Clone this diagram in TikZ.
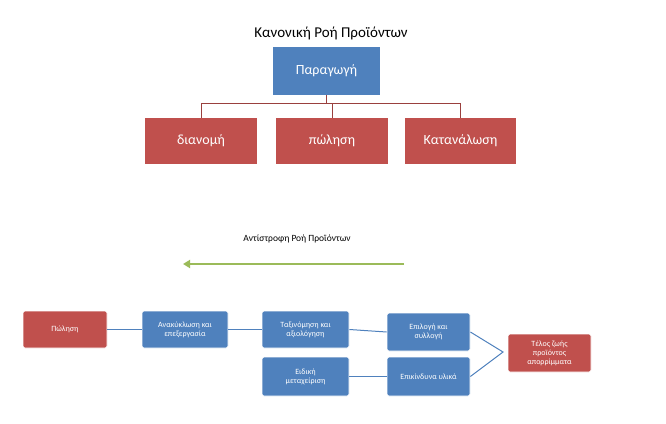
\documentclass[tikz,border=0pt]{standalone}
\usepackage{fontspec}
\setmainfont{Carlito}
\usetikzlibrary{arrows.meta}
\definecolor{bblue}{HTML}{4F81BD}
\definecolor{rred}{HTML}{C0504D}
\definecolor{ggreen}{HTML}{9BBB59}
\begin{document}
\begin{tikzpicture}[x=1pt,y=-1pt,
 box/.style={draw=white,line width=0.8pt,rounded corners=2pt,text=white,align=center,inner sep=1pt,font=\fontsize{8}{9}\selectfont},
 bigbox/.style={draw=none,text=white,align=center,font=\fontsize{14}{16}\selectfont},
 conn/.style={draw=bblue,line width=1pt}]
\useasboundingbox (0,0) rectangle (666,423);
\node[font=\fontsize{15}{17}\selectfont] (t1) at (331,33) {Κανονική Ροή Προϊόντων};
\node[bigbox,fill=bblue,minimum width=107pt,minimum height=48pt] (p) at (326.5,71) {Παραγωγή};
\node[bigbox,fill=rred,minimum width=112pt,minimum height=46pt] (d) at (201,141) {διανομή};
\node[bigbox,fill=rred,minimum width=112pt,minimum height=46pt] (po) at (332,141) {πώληση};
\node[bigbox,fill=rred,minimum width=111pt,minimum height=46pt] (k) at (460.5,141) {Κατανάλωση};
\coordinate (j) at (326.5,103);
\draw[rred!80!black,line width=0.8pt] (p.south) -- (j) -| (d.north);
\draw[rred!80!black,line width=0.8pt] (j) -| (k.north);
\draw[rred!80!black,line width=0.8pt] (j) -| (po.north);
\node[font=\fontsize{9.5}{11}\selectfont] (t2) at (297,239) {Αντίστροφη Ροή Προϊόντων};
\coordinate (ga) at (404,264);
\coordinate (gb) at (183,264);
\draw[ggreen,line width=2pt,-{Triangle[length=7pt,width=8pt]}] (ga) -- (gb);
\node[box,fill=rred,minimum width=84pt,minimum height=37pt] (a) at (65,329.5) {Πώληση};
\node[box,fill=bblue,minimum width=86pt,minimum height=37pt] (b) at (185,329.5) {Ανακύκλωση και\\επεξεργασία};
\node[box,fill=bblue,minimum width=87pt,minimum height=37pt] (c) at (305.5,329.5) {Ταξινόμηση και\\αξιολόγηση};
\node[box,fill=bblue,minimum width=83pt,minimum height=38pt] (e) at (428.5,332) {Επιλογή και\\συλλογή};
\node[box,fill=bblue,minimum width=87pt,minimum height=39pt] (f) at (305.5,376.5) {Ειδική\\μεταχείριση};
\node[box,fill=bblue,minimum width=83pt,minimum height=39pt] (g) at (428.5,376.5) {Επικίνδυνα υλικά};
\node[box,fill=rred,minimum width=83pt,minimum height=38pt] (h) at (549.5,353) {Τέλος ζωής\\προϊόντος\\απορρίμματα};
\coordinate (m) at (503,352);
\draw[conn] (a) -- (b);
\draw[conn] (b) -- (c);
\draw[conn] (c.east) -- (e.west);
\draw[conn] (f) -- (g);
\draw[conn] (e.east) -- (m) -- (g.east);
\end{tikzpicture}
\end{document}
